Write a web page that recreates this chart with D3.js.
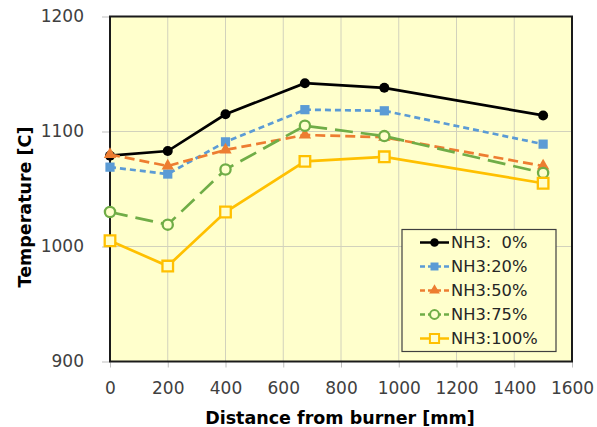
<!DOCTYPE html>
<meta charset="utf-8">
<style>
    html, body { margin:0; padding:0; overflow:hidden; background:#fff }
    text { font-family: "DejaVu Sans", Verdana, sans-serif; }
</style>
<svg id="chart" width="597" height="427"></svg>
<script src="https://cdn.jsdelivr.net/npm/d3@7"></script>
<script>

// values
var distances = [0, 200, 400, 675, 950, 1500];
var nh3_0   = [1079, 1083, 1115, 1142, 1138, 1114];
var nh3_20  = [1069, 1063, 1091, 1119, 1118, 1089];
var nh3_50  = [1080, 1070, 1084, 1097, 1095, 1070];
var nh3_75  = [1030, 1019, 1067, 1105, 1096, 1064];
var nh3_100 = [1005,  983, 1030, 1074, 1078, 1055];

var seriesNames = ["NH3:\u20070%", "NH3:20%", "NH3:50%", "NH3:75%", "NH3:100%"];
var xTicks = [0, 200, 400, 600, 800, 1000, 1200, 1400, 1600];
var yTicks = [900, 1000, 1100, 1200];

var series = [
    { name: seriesNames[0], values: nh3_0,   color: "#000000", dash: null,   shape: d3.symbolCircle,   size: 78,  open: false },
    { name: seriesNames[1], values: nh3_20,  color: "#5b9bd5", dash: "6,4",  shape: d3.symbolSquare,   size: 85,  open: false },
    { name: seriesNames[2], values: nh3_50,  color: "#ed7d31", dash: "10,5", shape: d3.symbolTriangle, size: 66,  open: false },
    { name: seriesNames[3], values: nh3_75,  color: "#70ad47", dash: "18,8", shape: d3.symbolCircle,   size: 82,  open: true },
    { name: seriesNames[4], values: nh3_100, color: "#ffc000", dash: null,   shape: d3.symbolSquare,   size: 112, open: true }
];

var bg = "#ffffcc";
var pLeft = 110, pRight = 572, pTop = 16.5, pBottom = 361.5;

var svg = d3.select("#chart");

var x = d3.scaleLinear().domain([0, 1600]).range([pLeft, pRight]);
var y = d3.scaleLinear().domain([900, 1200]).range([pBottom, pTop]);

// plot area
svg.append("rect")
    .attr("x", pLeft).attr("y", pTop)
    .attr("width", pRight - pLeft).attr("height", pBottom - pTop)
    .attr("fill", bg);

// grid
svg.append("g").selectAll("line")
    .data(xTicks.slice(1, -1))
    .enter().append("line")
    .attr("x1", function(d) { return x(d); }).attr("x2", function(d) { return x(d); })
    .attr("y1", pTop).attr("y2", pBottom)
    .attr("stroke", "#d2d2bc").attr("stroke-width", 1);

svg.append("g").selectAll("line")
    .data(yTicks.slice(1, -1))
    .enter().append("line")
    .attr("x1", pLeft).attr("x2", pRight)
    .attr("y1", function(d) { return y(d); }).attr("y2", function(d) { return y(d); })
    .attr("stroke", "#d2d2bc").attr("stroke-width", 1);

// axes
var yAxis = svg.append("g")
    .attr("transform", "translate(" + pLeft + ",0)")
    .call(d3.axisLeft(y).tickValues(yTicks).tickFormat(d3.format("d")).tickSize(8).tickPadding(18));

var xAxis = svg.append("g")
    .attr("transform", "translate(0," + pBottom + ")")
    .call(d3.axisBottom(x).tickValues(xTicks).tickFormat(d3.format("d")).tickSize(6).tickPadding(14));

[xAxis, yAxis].forEach(function(a) {
    a.select(".domain").remove();
    a.selectAll(".tick line").attr("stroke", "#bfbfbf");
    a.selectAll(".tick text")
        .attr("fill", "#404040")
        .style("font-size", "17px")
        .style("font-family", "'DejaVu Sans', Verdana, sans-serif");
});

// border
svg.append("rect")
    .attr("x", pLeft).attr("y", pTop)
    .attr("width", pRight - pLeft).attr("height", pBottom - pTop)
    .attr("fill", "none")
    .attr("stroke", "#1a1a1a").attr("stroke-width", 2);

// titles
svg.append("text")
    .attr("x", (pLeft + pRight) / 2 - 1).attr("y", 424)
    .attr("text-anchor", "middle")
    .style("font-size", "17.5px").style("font-weight", "bold")
    .text("Distance from burner [mm]");

svg.append("text")
    .attr("transform", "translate(31,207) rotate(-90)")
    .attr("text-anchor", "middle")
    .style("font-size", "17.5px").style("font-weight", "bold")
    .text("Temperature [C]");

// series
var line = d3.line()
    .x(function(d, i) { return x(distances[i]); })
    .y(function(d) { return y(d); });

series.forEach(function(s) {
    var g = svg.append("g");
    g.append("path")
        .attr("d", line(s.values))
        .attr("fill", "none")
        .attr("stroke", s.color)
        .attr("stroke-width", 2.7)
        .attr("stroke-dasharray", s.dash);

    g.selectAll("path.mark")
        .data(s.values)
        .enter().append("path")
        .attr("class", "mark")
        .attr("d", d3.symbol().type(s.shape).size(s.size))
        .attr("transform", function(d, i) { return "translate(" + x(distances[i]) + "," + y(d) + ")"; })
        .attr("fill", s.open ? bg : s.color)
        .attr("stroke", s.open ? s.color : "none")
        .attr("stroke-width", s.open ? 2.3 : 0);
});

// legend
var legend = svg.append("g");
legend.append("rect")
    .attr("x", 402).attr("y", 229.5)
    .attr("width", 154).attr("height", 122)
    .attr("fill", bg)
    .attr("stroke", "#404040").attr("stroke-width", 1.2);

var rowY = [242.5, 266.5, 290.5, 314.5, 338.5];

series.forEach(function(s, i) {
    var row = legend.append("g");
    row.append("line")
        .attr("x1", 420).attr("x2", 449)
        .attr("y1", rowY[i]).attr("y2", rowY[i])
        .attr("stroke", s.color).attr("stroke-width", 2.5)
        .attr("stroke-dasharray", s.dash ? "5,3" : null);
    row.append("path")
        .attr("d", d3.symbol().type(s.shape).size(s.size * 0.75))
        .attr("transform", "translate(434.5," + rowY[i] + ")")
        .attr("fill", s.open ? bg : s.color)
        .attr("stroke", s.open ? s.color : "none")
        .attr("stroke-width", s.open ? 2 : 0);
    row.append("text")
        .attr("x", 451).attr("y", rowY[i])
        .attr("dy", "0.35em")
        .attr("fill", "#262626")
        .style("font-size", "16.3px")
        .text(s.name);
});

</script>
